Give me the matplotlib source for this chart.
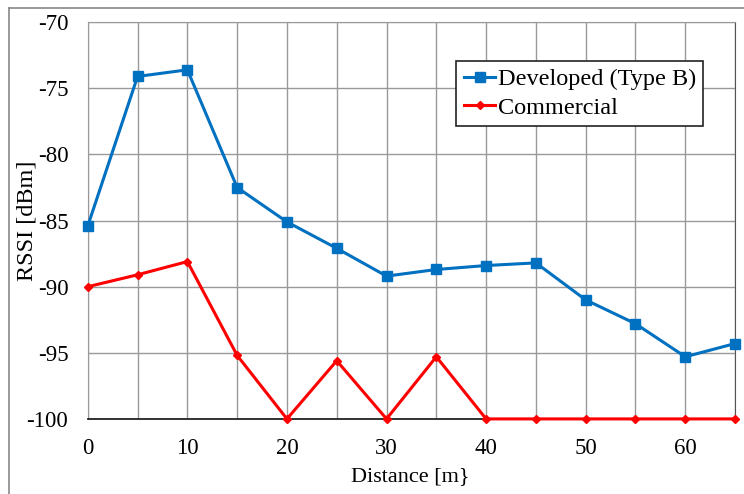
import matplotlib.pyplot as plt
from matplotlib.lines import Line2D

distance = [0, 5, 10, 15, 20, 25, 30, 35, 40, 45, 50, 55, 60, 65]
developed = [-85.4, -74.1, -73.6, -82.5, -85.1, -87.1, -89.2, -88.7, -88.4, -88.2, -91.0, -92.8, -95.3, -94.3]
commercial = [-90.0, -89.1, -88.1, -95.2, -100.0, -95.6, -100.0, -95.3, -100.0, -100.0, -100.0, -100.0, -100.0, -100.0]

plt.rcParams['font.family'] = ['Liberation Serif', 'DejaVu Serif']
plt.rcParams['axes.unicode_minus'] = False

fig = plt.figure(figsize=(7.44, 4.94), dpi=100)
ax = fig.add_axes([0.118, 0.152, 0.870, 0.803])

ax.plot(distance, developed, color='#0070C0', lw=2.2, marker='s', ms=7.5,
        label='Developed (Type B)', clip_on=False, zorder=3)
ax.plot(distance, commercial, color='#FF0000', lw=2.2, marker='D', ms=4.5,
        label='Commercial', clip_on=False, zorder=4)

ax.set_xlim(0, 65)
ax.set_ylim(-100, -70)
ax.set_xticks(range(0, 61, 10))
ax.set_xticks(range(0, 66, 5), minor=True)
ax.set_yticks(range(-100, -69, 5))
ax.grid(True, which='both', color='#999999', lw=1.0)
ax.tick_params(which='both', length=0, labelsize=16.5)
ax.tick_params(axis='x', pad=14)
ax.tick_params(axis='y', pad=14)

for side in ['left', 'top']:
    ax.spines[side].set_color('#999999')
ax.spines['right'].set_color('#555555')
ax.spines['bottom'].set_color('#222222')
ax.spines['bottom'].set_linewidth(1.3)

ax.set_xlabel('Distance [m}', fontsize=16)
ax.set_ylabel('RSSI [dBm]', fontsize=17.5)
ax.xaxis.set_label_coords(0.498, -0.122)
ax.yaxis.set_label_coords(-0.077, 0.50)

leg = ax.legend(loc='upper right', bbox_to_anchor=(0.951, 0.902), fontsize=17.5,
                fancybox=False, edgecolor='#222222', framealpha=1,
                handlelength=1.3, handletextpad=0.1, borderpad=0.3,
                labelspacing=0.25, borderaxespad=0)
leg.get_frame().set_linewidth(1.2)

fig.lines.append(Line2D([0.012, 1.0], [0.984, 0.984], transform=fig.transFigure,
                        color='#888888', lw=1.2))
fig.lines.append(Line2D([0.012, 0.012], [0.0, 0.984], transform=fig.transFigure,
                        color='#888888', lw=1.2))

fig.savefig('out.png', dpi=100)
